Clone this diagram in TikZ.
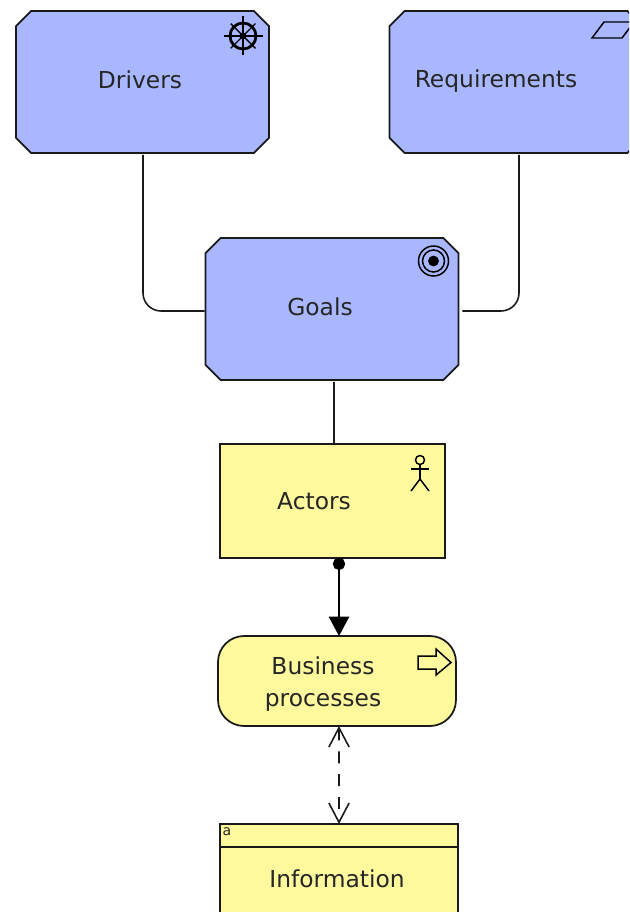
\documentclass[tikz,border=0pt]{standalone}
\usepackage{fontspec}
\setmainfont{DejaVu Sans}
\usetikzlibrary{arrows.meta}
\definecolor{motivblue}{HTML}{A9B7FF}
\definecolor{bizyellow}{HTML}{FFF99E}
\definecolor{inkline}{HTML}{1A1A1A}
\tikzset{
  motivbox/.style={rectangle,minimum width=5.06cm,minimum height=2.84cm,inner sep=0pt,outer sep=0pt},
  motivedge/.style={draw=inkline,fill=motivblue,line width=1pt,line join=round},
  bizbox/.style={rectangle,draw=inkline,fill=bizyellow,line width=1pt,inner sep=0pt,outer sep=0pt},
  boxlabel/.style={font=\fontsize{13.3}{18}\selectfont,text=black!85,align=center,inner sep=0pt},
  plainlink/.style={draw=inkline,line width=0.9pt},
  icon/.style={draw=black,line width=0.85pt},
}
% cut corners round a named box
\newcommand{\cutcorners}[1]{
  \filldraw[motivedge] ([xshift=0.3cm]#1.north west) -- ([xshift=-0.3cm]#1.north east)
    -- ([yshift=-0.3cm]#1.north east) -- ([yshift=0.3cm]#1.south east)
    -- ([xshift=-0.3cm]#1.south east) -- ([xshift=0.3cm]#1.south west)
    -- ([yshift=0.3cm]#1.south west) -- ([yshift=-0.3cm]#1.north west) -- cycle;
}
\begin{document}
\begin{tikzpicture}[x=0.02cm,y=-0.02cm]
\clip (0,0) rectangle (629,912);

% Motivation boxes
\node[motivbox] (drivers) at (142.5,82) {};
\cutcorners{drivers}
\node[boxlabel] (driverstext) at (140,80) {Drivers};
\node[motivbox] (requirements) at (516,82) {};
\cutcorners{requirements}
\node[boxlabel] (requirementstext) at (496,81) {Requirements};
\node[motivbox] (goals) at (332,309) {};
\cutcorners{goals}
\node[boxlabel] (goalstext) at (320,307) {Goals};

% Business boxes
\node[bizbox,minimum width=4.5cm,minimum height=2.27cm] (actors) at (332.5,501) {};
\node[boxlabel] (actorstext) at (314,501) {Actors};
\node[bizbox,rounded corners=0.52cm,minimum width=4.76cm,minimum height=1.8cm] (processes) at (337,681) {};
\node[boxlabel] (processestext) at (323,684) {Business\\processes};
\node[bizbox,minimum width=4.76cm,minimum height=2.4cm] (information) at (339,884) {};
\node[boxlabel] (informationtext) at (337,879) {Information};
\draw[plainlink] ([yshift=-0.46cm]information.north west) -- ([yshift=-0.46cm]information.north east);
\node[font=\fontsize{8}{9}\selectfont,text=black!85,inner sep=0pt] (informationmark) at (227,832) {a};

% Links between boxes
\draw[plainlink,rounded corners=0.36cm] ([shift={(0.5,2)}]drivers.south) |- ([shift={(-1,2)}]goals.west);
\draw[plainlink,rounded corners=0.36cm] ([shift={(3,2)}]requirements.south) |- ([shift={(4,2)}]goals.east);
\draw[plainlink] ([shift={(2,2)}]goals.south) -- ([xshift=0.03cm]actors.north);
\draw[line width=1.1pt,draw=black,{Circle[length=7pt]}-{Triangle[width=11.5pt,length=11pt]}] ([xshift=0.13cm]actors.south) -- ([xshift=0.04cm]processes.north);
\draw[line width=0.9pt,draw=inkline,dash pattern=on 6.8pt off 6.2pt,{Straight Barb[width=11.5pt,length=11pt,line width=0.9pt]}-{Straight Barb[width=11.5pt,length=11pt,line width=0.9pt]}] ([xshift=0.04cm]processes.south) -- (information.north);

% Driver wheel
\draw[line width=1.6pt] (243,36) circle (13);
\foreach \a in {0,90,180,270}
  \draw[line width=0.8pt] (243,36) -- ++(\a:19.5);
\foreach \a in {45,135,225,315}
  \draw[line width=0.8pt] (243,36) -- ++(\a:17.5);
\filldraw[black] (243,36) circle (3);

% Requirement sign
\draw[icon] (592,38) -- (604,22) -- (634,22) -- (622,38) -- cycle;

% Goal target
\draw[icon] (433.5,261) circle (15);
\draw[icon] (433.5,261) circle (11);
\filldraw[black] (433.5,261) circle (5);

% Actor figure
\draw[icon] (420,460) circle (4.5);
\draw[icon] (420,464.5) -- (420,479);
\draw[icon] (411,469) -- (429,469);
\draw[icon] (411,491) -- (420,479) -- (429,491);

% Process arrow
\draw[icon,line join=miter] (418,656) -- (436,656) -- (436,649) -- (451,662.5) -- (436,675) -- (436,669) -- (418,669) -- cycle;
\end{tikzpicture}
\end{document}
